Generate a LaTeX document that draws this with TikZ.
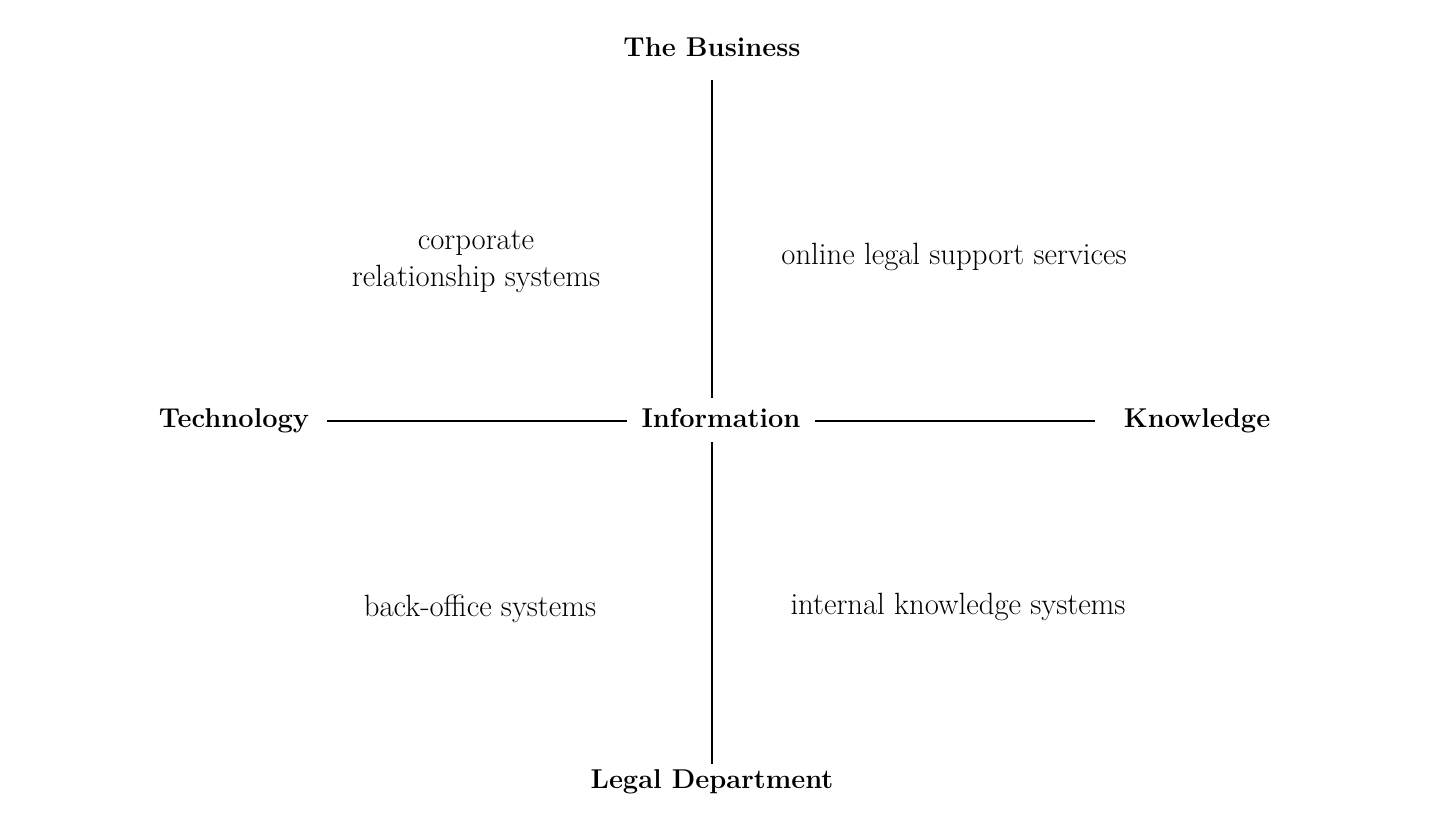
\documentclass[tikz,border=0pt]{standalone}
\usepackage{tikz}
\usetikzlibrary{arrows,positioning}

\begin{document}
\begin{tikzpicture}[x=0.02cm, y=-0.02cm, >=latex']
        \useasboundingbox (0,0) rectangle (1429,826);
        \tikzset{
            pole/.style={font=\fontsize{15.5}{19}\selectfont\bfseries, inner sep=2pt},
            field/.style={font=\fontsize{17.5}{21}\selectfont, align=center},
            axis/.style={line width=1.2pt}
        }
        % Polos de los ejes
        \node[pole] (business) at (712,47) {The Business};
        \node[pole] (legal) at (712,782) {Legal Department};
        \node[pole] (technology) at (234,421) {Technology};
        \node[pole] (knowledge) at (1197,421) {Knowledge};
        \node[pole] (information) at (721,418) {Information};
        % Cuadrantes
        \node[field] (corporate) at (476,262) {corporate\\relationship systems};
        \node[field] (online) at (954,257) {online legal support services};
        \node[field] (backoffice) at (480,609) {back-office systems};
        \node[field] (internal) at (958,607) {internal knowledge systems};
        % Ejes
        \draw[axis, shorten <=11pt, shorten >=4pt] (business) -- (business |- information.north);
        \draw[axis, shorten <=6pt, shorten >=1pt] (legal |- information.south) -- (legal);
        \draw[axis, shorten <=8pt, shorten >=6pt] (technology) -- (technology -| information.west);
        \draw[axis, shorten <=6pt, shorten >=14pt] (technology -| information.east) -- (knowledge);
    \end{tikzpicture}
\end{document}
